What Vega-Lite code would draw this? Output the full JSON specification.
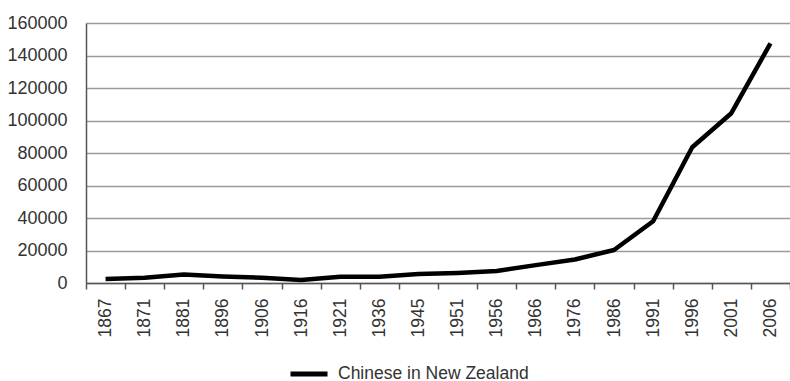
{
  "$schema": "https://vega.github.io/schema/vega-lite/v6.json",
  "autosize": "none",
  "width": 704,
  "height": 260,
  "padding": {"left": 86, "top": 23, "right": 0, "bottom": 98},
  "background": "white",
  "data": {
    "values": [
      {"year": "1867", "population": 2500, "series": "Chinese in New Zealand"},
      {"year": "1871", "population": 3300, "series": "Chinese in New Zealand"},
      {"year": "1881", "population": 5300, "series": "Chinese in New Zealand"},
      {"year": "1896", "population": 4000, "series": "Chinese in New Zealand"},
      {"year": "1906", "population": 3200, "series": "Chinese in New Zealand"},
      {"year": "1916", "population": 1900, "series": "Chinese in New Zealand"},
      {"year": "1921", "population": 3800, "series": "Chinese in New Zealand"},
      {"year": "1936", "population": 3800, "series": "Chinese in New Zealand"},
      {"year": "1945", "population": 5500, "series": "Chinese in New Zealand"},
      {"year": "1951", "population": 6200, "series": "Chinese in New Zealand"},
      {"year": "1956", "population": 7400, "series": "Chinese in New Zealand"},
      {"year": "1966", "population": 11000, "series": "Chinese in New Zealand"},
      {"year": "1976", "population": 14500, "series": "Chinese in New Zealand"},
      {"year": "1986", "population": 20300, "series": "Chinese in New Zealand"},
      {"year": "1991", "population": 38000, "series": "Chinese in New Zealand"},
      {"year": "1996", "population": 83500, "series": "Chinese in New Zealand"},
      {"year": "2001", "population": 104500, "series": "Chinese in New Zealand"},
      {"year": "2006", "population": 147500, "series": "Chinese in New Zealand"}
    ]
  },
  "mark": {"type": "line", "strokeWidth": 4.5, "strokeJoin": "round", "clip": false},
  "encoding": {
    "x": {
      "field": "year",
      "type": "ordinal",
      "sort": null,
      "bandPosition": 0.5,
      "scale": {"type": "band", "paddingInner": 0, "paddingOuter": 0},
      "axis": {
        "title": null,
        "tickBand": "extent",
        "grid": false,
        "labelAngle": 270,
        "labelAlign": "right",
        "labelBaseline": "middle",
        "labelFont": "Liberation Sans",
        "labelFontSize": 17.5,
        "labelColor": "#333333",
        "labelPadding": 9,
        "tickSize": 6,
        "tickColor": "#555555",
        "tickWidth": 1.5,
        "domainColor": "#555555",
        "domainWidth": 1.5
      }
    },
    "y": {
      "field": "population",
      "type": "quantitative",
      "scale": {"domain": [0, 160000], "nice": false},
      "axis": {
        "title": null,
        "values": [0, 20000, 40000, 60000, 80000, 100000, 120000, 140000, 160000],
        "format": "d",
        "ticks": false,
        "labelPadding": 19,
        "labelFont": "Liberation Sans",
        "labelFontSize": 18,
        "labelColor": "#333333",
        "grid": true,
        "gridColor": "#9a9a9a",
        "gridWidth": 1.5,
        "domainColor": "#555555",
        "domainWidth": 1.5
      }
    },
    "color": {
      "field": "series",
      "type": "nominal",
      "scale": {"range": ["#000000"]},
      "legend": {
        "title": null,
        "orient": "none",
        "legendX": 202,
        "legendY": 330,
        "symbolType": "stroke",
        "symbolSize": 1369,
        "symbolStrokeWidth": 5,
        "labelFont": "Liberation Sans",
        "labelFontSize": 17.5,
        "labelColor": "#333333",
        "labelOffset": 8,
        "labelLimit": 400
      }
    }
  },
  "config": {"view": {"stroke": null}}
}
